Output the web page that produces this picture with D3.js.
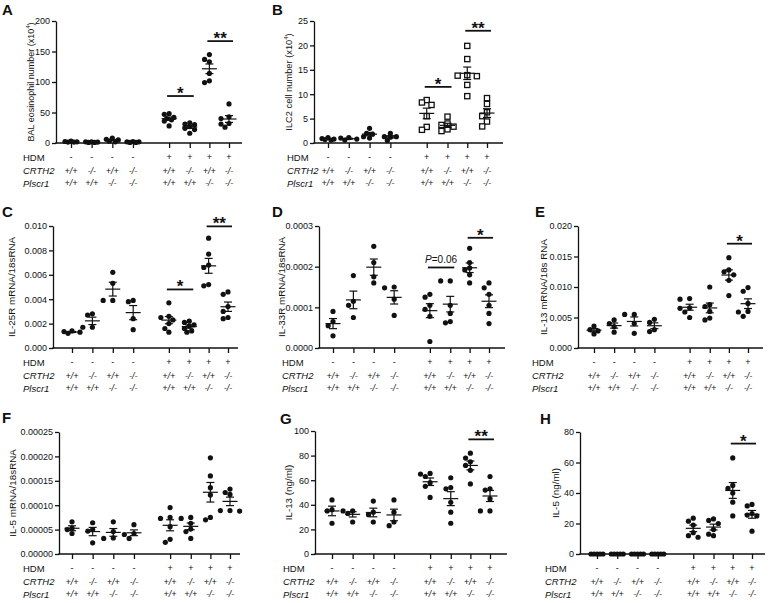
<!DOCTYPE html>
<html><head><meta charset="utf-8">
<script src="https://cdn.jsdelivr.net/npm/d3@7"></script>
<style>
body{margin:0;background:#fff}
svg{display:block}
text{font-family:"Liberation Sans",Arial,Helvetica,sans-serif;fill:#111}
</style>
</head><body>
<svg id="chart" width="770" height="603"></svg>
<script>
// ---------- categories ----------
const groupIds   = ["g1","g2","g3","g4","g5","g6","g7","g8"];
const hdmRow     = ["-","-","-","-","+","+","+","+"];
const crth2Row   = ["+/+","-/-","+/+","-/-","+/+","-/-","+/+","-/-"];
const plscr1Row  = ["+/+","+/+","-/-","-/-","+/+","+/+","-/-","-/-"];

// ---------- series values (one array of points per group) ----------
const eosinophilA = [
  [1.5,2.5,3,2,1.5],[1,2,2,1.5,1],[3,5,8,6,2],[1,2,2.5,2,1],
  [48,47,42,40,38,36,28],[33,31,30,27,24,22,16],
  [145,137,133,114,102,99],[64,43,40,32,31,26]
];
const ilc2B = [
  [1.1,0.9,0.7,0.6,0.8],[1.1,1.0,0.8,0.6],[3.0,2.0,1.8,1.3,1.0],[2.0,1.3,1.3,1.2,0.5],
  [8.8,8.3,7.8,5.5,3.3,2.7],[5.4,4.0,3.7,3.35,2.8,2.45],
  [19.9,17.2,13.9,13.8,13.7,11.9,9.6],[9.2,8.0,6.3,5.5,4.4,3.4]
];
const il25rC = [
  [0.0012,0.0013,0.0014,0.00135],[0.0028,0.0027,0.0017,0.0017],
  [0.0062,0.0053,0.0039,0.0039],[0.0039,0.0038,0.0024,0.0015],
  [0.0037,0.0026,0.0025,0.0023,0.0020,0.0016,0.0013],
  [0.0022,0.0021,0.0019,0.0018,0.0016,0.0014,0.0013],
  [0.0090,0.0077,0.0068,0.0066,0.0052,0.0051],
  [0.0046,0.0044,0.0034,0.0030,0.0025,0.0024]
];
const il33rD = [
  [0.00009,0.000065,0.000055,0.00003],[0.000178,0.000115,0.000105,0.000075],
  [0.00025,0.00021,0.000175,0.00016],[0.00015,0.000148,0.00012,0.00008],
  [0.000132,0.000125,0.000105,0.000095,0.000078,0.000016],
  [0.000165,0.000165,0.000105,0.000085,0.000065,0.000062],
  [0.000245,0.00021,0.000197,0.000192,0.00018,0.00016],
  [0.00016,0.000148,0.000132,0.000105,0.000085,0.00006]
];
const il13mrnaE = [
  [0.0036,0.0030,0.0028,0.0023],[0.0046,0.0040,0.0035,0.0026],
  [0.0055,0.0055,0.0040,0.0024],[0.0047,0.0042,0.0030,0.0027],
  [0.0081,0.0080,0.0066,0.0065,0.0059,0.0050],
  [0.0100,0.0071,0.0068,0.0060,0.0049,0.0046],
  [0.0148,0.0128,0.0125,0.0120,0.0111,0.0086],
  [0.0099,0.0093,0.0073,0.0060,0.0059,0.0052]
];
const il5mrnaF = [
  [6.6e-5,5.3e-5,5.0e-5,4.2e-5],[6.4e-5,5.0e-5,4.7e-5,2.3e-5],
  [6.6e-5,4.6e-5,3.3e-5,3.2e-5],[6.0e-5,4.2e-5,4.0e-5,3.2e-5],
  [9.5e-5,7.5e-5,7.3e-5,5.6e-5,3.0e-5,2.4e-5],
  [7.5e-5,7.3e-5,6.3e-5,5.1e-5,4.6e-5,3.2e-5],
  [19.7e-5,16.0e-5,13.6e-5,12.1e-5,7.5e-5,7.0e-5],
  [13.3e-5,12.6e-5,12.2e-5,8.9e-5,8.9e-5,8.8e-5]
];
const il13proteinG = [
  [44,36,35,25],[35,35,33,26],[43,34,32,26],[44,34,26,23],
  [65.5,65,63,58,55,46],[62,54,53,42,34,25],
  [82,78,75,72,68,57],[63,53,52,45,35,35]
];
const il5proteinH = [
  [0,0,0,0,0],[0,0,0,0,0],[0,0,0,0,0],[0,0,0,0,0],
  [23.5,21.5,19,14,12,11],[23,22,20,16,13,12],
  [63,45,43,40,34,25],[32.5,31.5,26.5,25.5,25,15]
];

// ---------- tick labels ----------
const ticksA = [0,50,100,150,200];
const ticksB = [0,5,10,15,20,25];
const ticksC = [0,0.002,0.004,0.006,0.008,0.010];
const ticksD = [0,0.0001,0.0002,0.0003];
const ticksE = [0,0.005,0.010,0.015,0.020];
const ticksF = [0,0.00005,0.00010,0.00015,0.00020,0.00025];
const ticksG = [0,20,40,60,80,100];
const ticksH = [0,20,40,60,80];

// ---------- significance annotations (group indices, value level, label) ----------
const sigA = [{a:4,b:5,v:77,t:"*"},{a:6,b:7,v:167,t:"**"}];
const sigB = [{a:4,b:5,v:11.5,t:"*"},{a:6,b:7,v:23,t:"**"}];
const sigC = [{a:4,b:5,v:0.0048,t:"*"},{a:6,b:7,v:0.00997,t:"**"}];
const sigD = [{a:4,b:5,v:0.000198,t:"P=0.06"},{a:6,b:7,v:0.000271,t:"*"}];
const sigE = [{a:6,b:7,v:0.0171,t:"*"}];
const sigF = [];
const sigG = [{a:6,b:7,v:93.2,t:"**"}];
const sigH = [{a:6,b:7,v:72.4,t:"*"}];

// ---------- layout (positions only) ----------
const slots = [0,1,2,3,4.75,5.75,6.7,7.65];
const rowOffsets = [14,27.6,40];

const panels = [
 {id:"A", data:eosinophilA, ticks:ticksA, fmt:d3.format("d"), sig:sigA, tfs:9,
  title:["BAL eosinophil number (x10","4",")"],
  L:{left:56,top:21,bottom:143,x0:71,x1:229,end:242,rowX:23,titleX:31,lx:2,ly:15}},
 {id:"B", data:ilc2B, ticks:ticksB, fmt:d3.format("d"), sig:sigB, squares:true, tfs:9.3,
  title:["ILC2 cell number (x10","4",")"],
  L:{left:314,top:21,bottom:143,x0:328,x1:487,end:503,rowX:287,titleX:289,lx:272,ly:15}},
 {id:"C", data:il25rC, ticks:ticksC, fmt:d3.format(".3f"), sig:sigC, tfs:9.8,
  title:["IL-25R mRNA/18sRNA"],
  L:{left:53,top:226,bottom:348,x0:72,x1:228,end:238,rowX:23,titleX:11,lx:2,ly:217}},
 {id:"D", data:il33rD, ticks:ticksD, fmt:d3.format(".4f"), sig:sigD, tfs:9.8,
  title:["IL-33R mRNA/18sRNA"],
  L:{left:319,top:226,bottom:348,x0:333,x1:489,end:505,rowX:282,titleX:281,lx:272,ly:217}},
 {id:"E", data:il13mrnaE, ticks:ticksE, fmt:d3.format(".3f"), sig:sigE, tfs:9.8,
  title:["IL-13 mRNA/18s RNA"],
  L:{left:578,top:226,bottom:348,x0:594,x1:748,end:763,rowX:532,titleX:543,lx:535,ly:217}},
 {id:"F", data:il5mrnaF, ticks:ticksF, fmt:d3.format(".5f"), sig:sigF, tfs:9.8,
  title:["IL-5 mRNA/18sRNA"],
  L:{left:59,top:432,bottom:554,x0:72,x1:230,end:240,rowX:23,titleX:12,lx:2,ly:423}},
 {id:"G", data:il13proteinG, ticks:ticksG, fmt:d3.format("d"), sig:sigG, tfs:9.8,
  title:["IL-13 (ng/ml)"],
  L:{left:315,top:431,bottom:554,x0:332,x1:490,end:507,rowX:283,titleX:288,lx:280,ly:424}},
 {id:"H", data:il5proteinH, ticks:ticksH, fmt:d3.format("d"), sig:sigH, tfs:9.8,
  title:["IL-5 (ng/ml)"],
  L:{left:580,top:432,bottom:554,x0:597,x1:752,end:765,rowX:545,titleX:555,lx:540,ly:424}}
];

const svg = d3.select("#chart");
const R = 2.6;

function swarm(vals, y, cx){
  const ys = vals.map(v=>y(v));
  // how crowded is the densest part of this group?
  let crowd = 1;
  ys.forEach(a=>{ crowd = Math.max(crowd, ys.filter(b=>Math.abs(a-b) < 2*R).length); });
  const step = crowd >= 4 ? Math.min(4.8, 12/(crowd-1)) : 4.8;
  const cands = [0,-step,step,-2*step,2*step];
  const placed = [];
  const order = vals.map((v,i)=>i).sort((a,b)=>vals[b]-vals[a]);
  order.forEach(i=>{
    const py = ys[i];
    let best = cx, bestD = -1;
    for (const c of cands){
      const px = cx + c;
      let md = Infinity;
      placed.forEach(p=>{ md = Math.min(md, Math.hypot(p.x-px, p.y-py)); });
      if (md >= 2*R*0.95){ best = px; bestD = md; break; }
      if (md > bestD + 0.01){ bestD = md; best = px; }
    }
    placed.push({x:best, y:py});
  });
  return placed;
}

panels.forEach(p=>{
  const L = p.L;
  const g = svg.append("g");
  const y = d3.scaleLinear().domain([0, d3.max(p.ticks)]).range([L.bottom, L.top]);
  const x = d3.scaleLinear().domain([slots[0], slots[slots.length-1]]).range([L.x0, L.x1]);

  // panel letter
  g.append("text").attr("x",L.lx).attr("y",L.ly).text(p.id)
    .style("font-size","15px").style("font-weight","bold");

  // y axis
  const ya = g.append("g").attr("transform",`translate(${L.left},0)`)
    .call(d3.axisLeft(y).tickValues(p.ticks).tickFormat(p.fmt).tickSize(4).tickSizeOuter(0).tickPadding(2));
  ya.selectAll("path,line").attr("stroke","#111").attr("stroke-width",1.3);
  ya.selectAll("text").style("font-size","9px").style("font-family",'"Liberation Sans",Arial,sans-serif').attr("fill","#111");

  // x axis
  const xa = g.append("g").attr("transform",`translate(0,${L.bottom})`)
    .call(d3.axisBottom(x).tickValues(slots).tickFormat("").tickSize(5).tickSizeOuter(0));
  xa.select(".domain").remove();
  xa.selectAll("line").attr("stroke","#111").attr("stroke-width",1.3);
  g.append("line").attr("x1",L.left-0.65).attr("x2",L.end).attr("y1",L.bottom).attr("y2",L.bottom)
    .attr("stroke","#111").attr("stroke-width",1.3);

  // y title
  const cy = (L.top + L.bottom)/2;
  const tt = g.append("text").attr("transform",`translate(${L.titleX},${cy}) rotate(-90)`)
    .attr("text-anchor","middle").attr("dominant-baseline","central").style("font-size",p.tfs+"px");
  if (p.title.length === 1) tt.text(p.title[0]);
  else {
    tt.append("tspan").text(p.title[0]);
    tt.append("tspan").attr("dy",-3).style("font-size","6px").text(p.title[1]);
    tt.append("tspan").attr("dy",3).text(p.title[2]);
  }

  // genotype rows
  const rows = [["HDM",hdmRow,false],["CRTH2",crth2Row,true],["Plscr1",plscr1Row,true]];
  rows.forEach((r,ri)=>{
    const yy = L.bottom + rowOffsets[ri];
    g.append("text").attr("x",L.rowX).attr("y",yy).attr("dominant-baseline","central")
      .style("font-size","9.5px").style("font-style",r[2]?"italic":"normal").text(r[0]);
    r[1].forEach((s,i)=>{
      g.append("text").attr("x",x(slots[i])).attr("y",yy).attr("dominant-baseline","central")
        .attr("text-anchor","middle").style("font-size","9px")
        .style("font-style",ri===0?"normal":"italic").text(s);
    });
  });

  // points + mean/SEM
  p.data.forEach((vals,gi)=>{
    const cx = x(slots[gi]);
    const pts = swarm(vals, y, cx);
    const useSquare = p.squares && gi >= 4;
    if (useSquare){
      g.selectAll(null).data(pts).enter().append("rect")
        .attr("x",d=>d.x-2.6).attr("y",d=>d.y-2.6).attr("width",5.2).attr("height",5.2)
        .attr("fill","#fff").attr("stroke","#111").attr("stroke-width",1.3);
    } else {
      g.selectAll(null).data(pts).enter().append("circle")
        .attr("cx",d=>d.x).attr("cy",d=>d.y).attr("r",R).attr("fill","#111");
    }
    const m = d3.mean(vals);
    const sem = vals.length>1 ? d3.deviation(vals)/Math.sqrt(vals.length) : 0;
    const ln = (x1,y1,x2,y2)=>g.append("line").attr("x1",x1).attr("y1",y1).attr("x2",x2).attr("y2",y2)
      .attr("stroke","#111").attr("stroke-width",1.2);
    ln(cx-7.5,y(m),cx+7.5,y(m));
    if (sem>0){
      ln(cx,y(m-sem),cx,y(m+sem));
      ln(cx-4,y(m-sem),cx+4,y(m-sem));
      ln(cx-4,y(m+sem),cx+4,y(m+sem));
    }
  });

  // significance bars
  p.sig.forEach(s=>{
    const by = y(s.v);
    const xa1 = x(slots[s.a])-2, xb1 = x(slots[s.b])+4;
    g.append("line").attr("x1",xa1).attr("x2",xb1).attr("y1",by).attr("y2",by)
      .attr("stroke","#111").attr("stroke-width",1.8);
    const mx = (xa1+xb1)/2;
    if (s.t.startsWith("P")){
      const t = g.append("text").attr("x",mx).attr("y",by-8).attr("text-anchor","middle")
        .attr("dominant-baseline","central").style("font-size","10px");
      t.append("tspan").style("font-style","italic").text("P");
      t.append("tspan").text(s.t.slice(1));
    } else {
      g.append("text").attr("x",mx).attr("y",by+3).attr("text-anchor","middle")
        .style("font-size","17px").style("font-weight","bold").text(s.t);
    }
  });
});
</script>
</body></html>
